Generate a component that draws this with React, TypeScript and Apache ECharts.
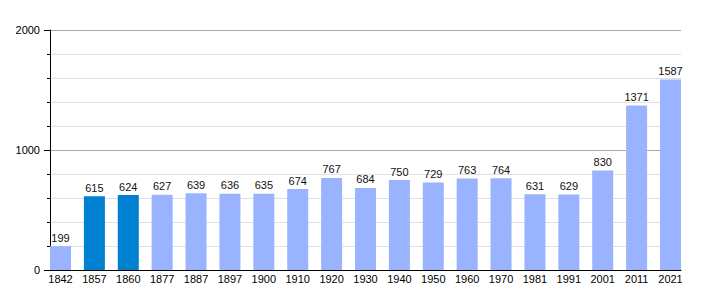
import React, { useEffect, useRef } from "react";
import * as echarts from "echarts";

const years = ["1842","1857","1860","1877","1887","1897","1900","1910","1920","1930","1940","1950","1960","1970","1981","1991","2001","2011","2021"];
const population = [199,615,624,627,639,636,635,674,767,684,750,729,763,764,631,629,830,1371,1587];
const highlighted = ["1857","1860"];

const LIGHT = "#99b3ff";
const DARK = "#0080d0";

export default function App() {
  const ref = useRef<HTMLDivElement>(null);
  useEffect(() => {
    if (!ref.current) return;
    const chart = echarts.init(ref.current, undefined, { renderer: "svg" });
    const font = "Liberation Sans, Arial, sans-serif";
    chart.setOption({
      animation: false,
      grid: [
        { left: 50, right: 29, top: 30, bottom: 30 },
        { left: 60.5, right: 39.5, top: 30, bottom: 30 },
      ],
      xAxis: [
        {
          gridIndex: 0, type: "category", data: years, boundaryGap: true,
          axisLine: { lineStyle: { color: "#000", width: 1 } },
          axisTick: { show: false }, axisLabel: { show: false },
        },
        {
          gridIndex: 1, type: "category", data: years, boundaryGap: false,
          axisLine: { show: false }, axisTick: { show: false },
          axisLabel: { color: "#000", fontSize: 11, fontFamily: font, margin: 3, interval: 0 },
        },
      ],
      yAxis: [
        {
          gridIndex: 0, type: "value", min: 0, max: 2000, interval: 1000,
          axisLine: { show: true, lineStyle: { color: "#000", width: 1 } },
          axisTick: { show: true, length: 6, lineStyle: { color: "#000" } },
          minorTick: { show: true, splitNumber: 5, length: 3, lineStyle: { color: "#000" } },
          axisLabel: { color: "#000", fontSize: 11, fontFamily: font, margin: 10, formatter: (v: number) => String(v) },
          splitLine: { show: true, lineStyle: { color: "#aaaaaa", width: 1 } },
          minorSplitLine: { show: true, lineStyle: { color: "#e0e0e0", width: 1 } },
        },
        {
          gridIndex: 1, type: "value", min: 0, max: 2000, show: false,
          splitLine: { show: false },
        },
      ],
      series: [
        {
          type: "bar", xAxisIndex: 1, yAxisIndex: 1, barWidth: 21,
          data: population.map((v, i) => ({
            value: v,
            itemStyle: { color: highlighted.includes(years[i]) ? DARK : LIGHT },
          })),
          label: { show: true, position: "top", distance: 3, color: "#111", fontSize: 11, fontFamily: font },
        },
      ],
    });
    return () => chart.dispose();
  }, []);
  return <div ref={ref} style={{ width: 710, height: 300, position: "absolute", left: 0, top: 0 }} />;
}
